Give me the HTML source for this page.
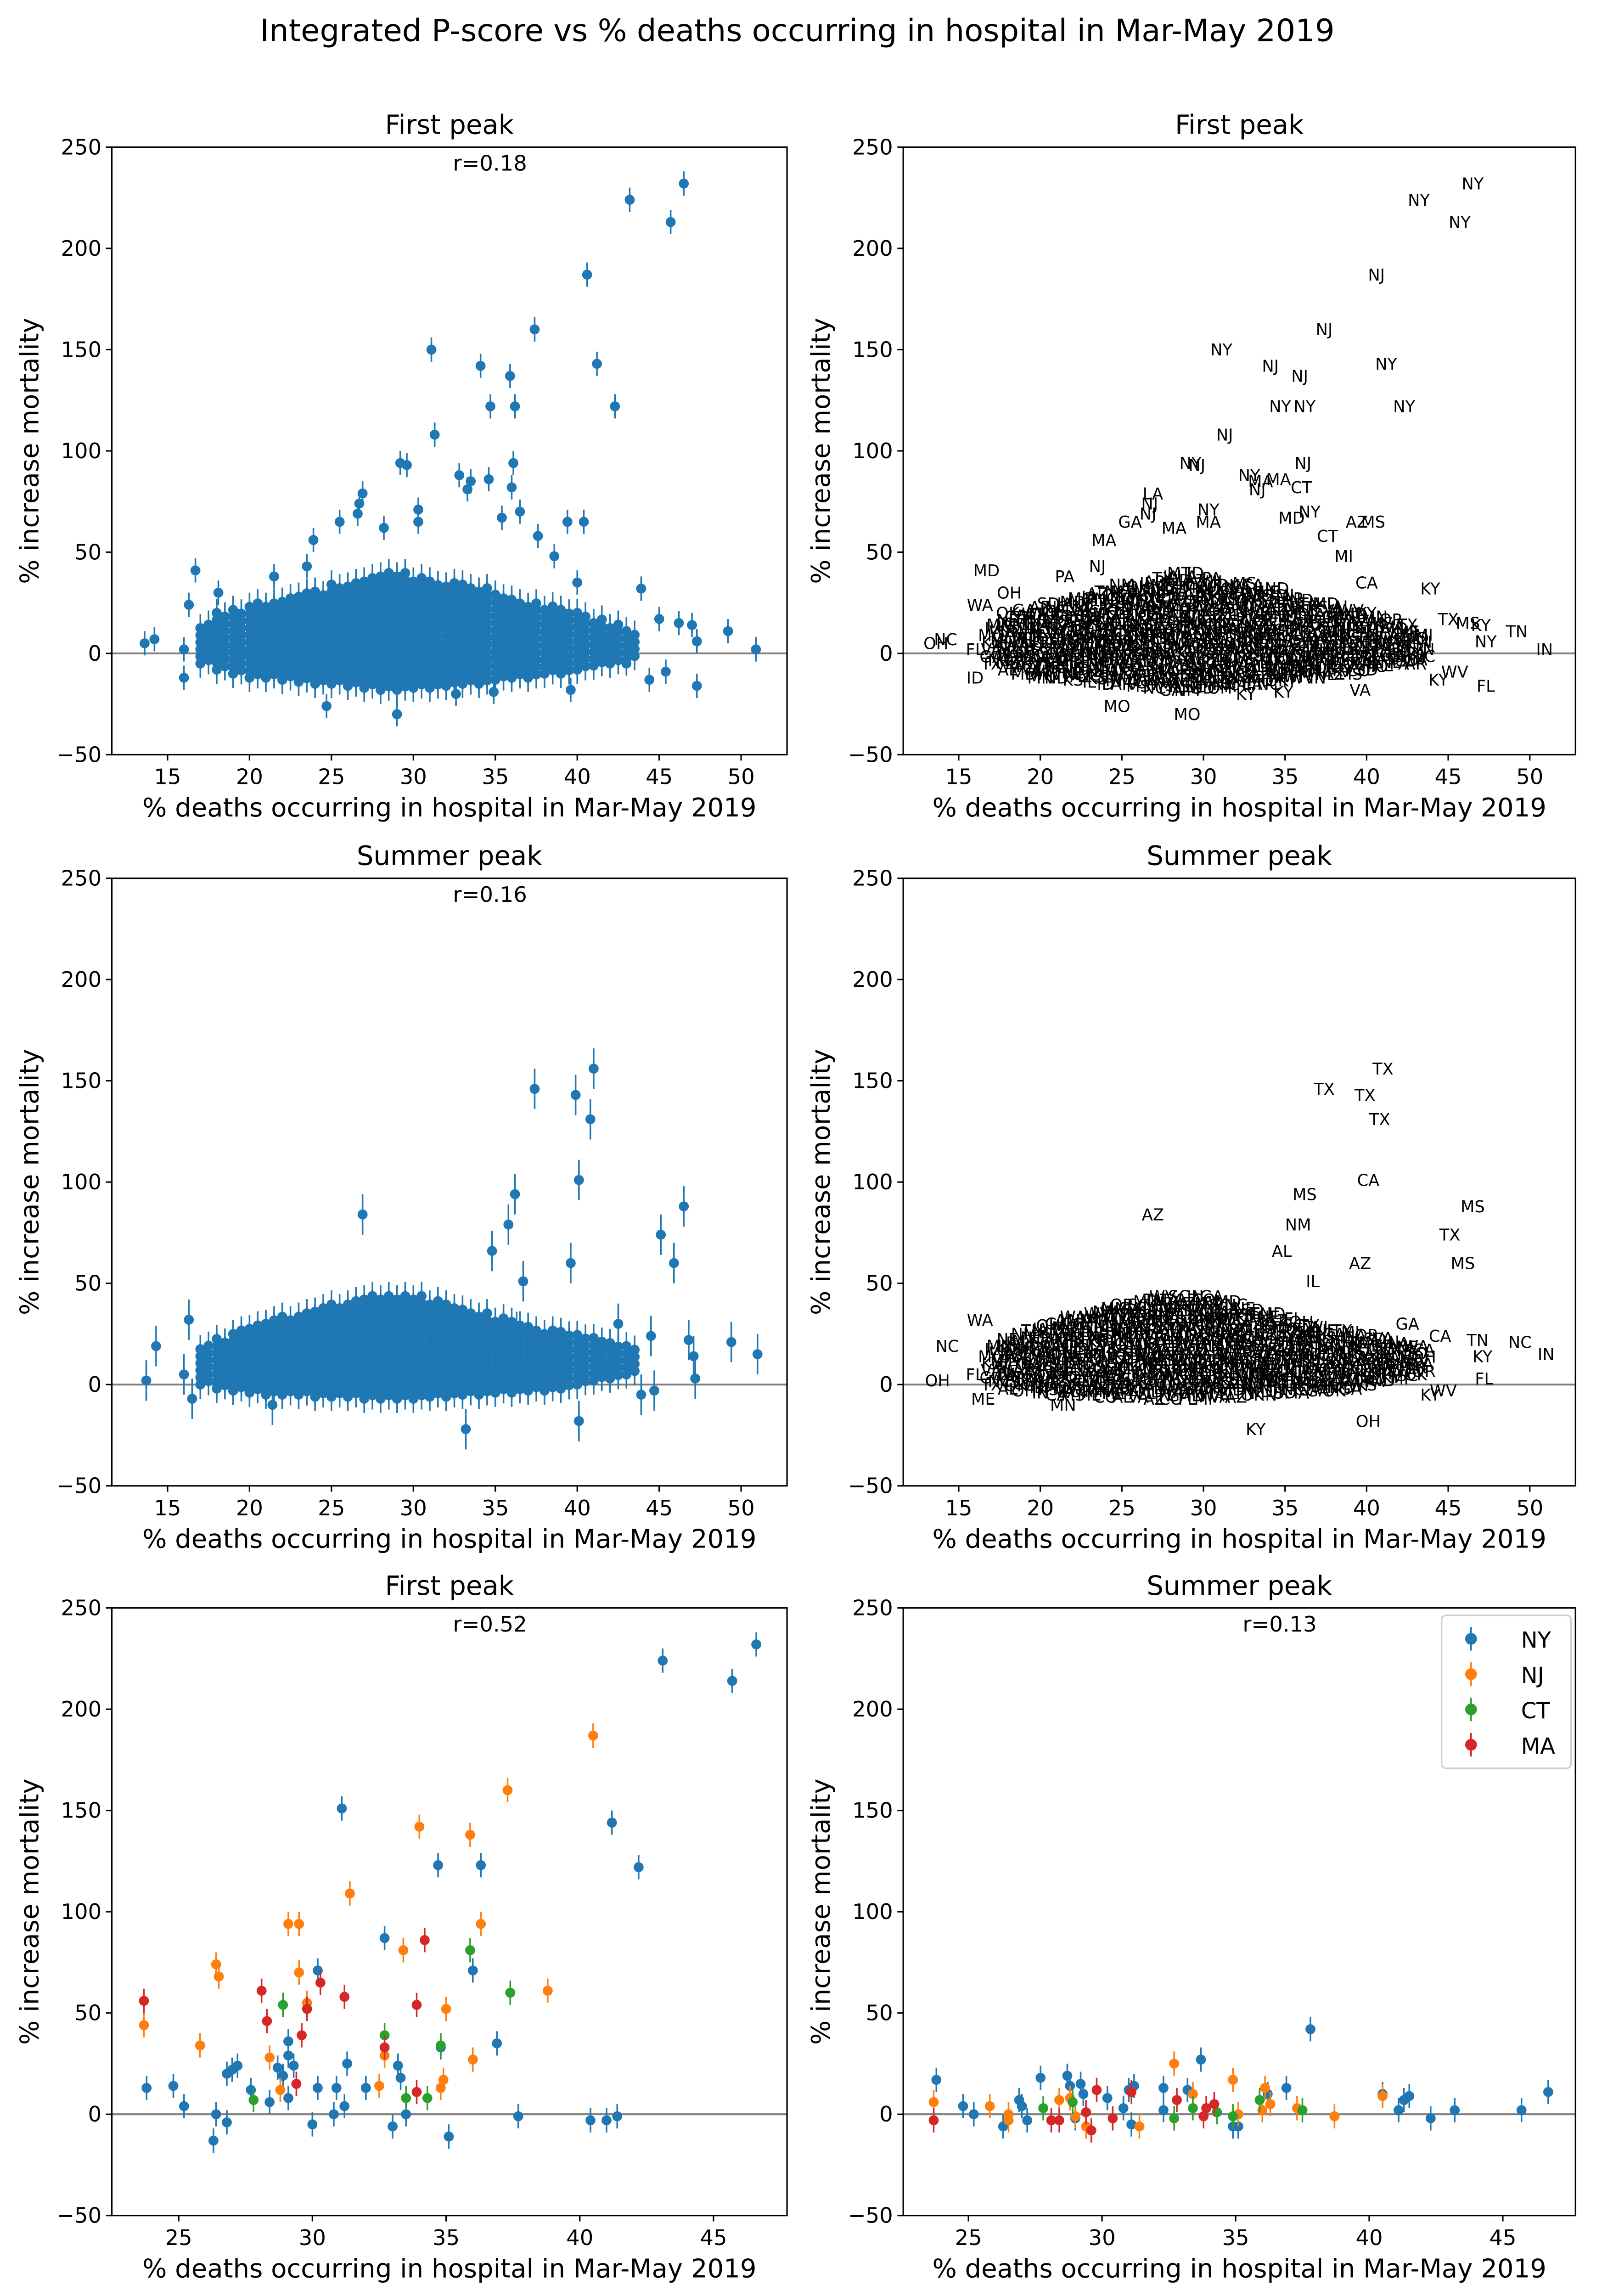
<!DOCTYPE html>
<html><head><meta charset="utf-8"><style>
html,body{margin:0;padding:0;background:#fff;width:3489px;height:5049px;overflow:hidden}
svg{display:block;font-family:"DejaVu Sans","Liberation Sans",sans-serif}
</style></head><body>
<svg id="fig" width="3489" height="5049" viewBox="0 0 1089 1576" xmlns="http://www.w3.org/2000/svg">
<rect width="1089" height="1576" fill="#fff"/>
<text x="542" y="28" font-size="21" text-anchor="middle">Integrated P-score vs % deaths occurring in hospital in Mar-May 2019</text>
</svg>
<script>
// ---- data ----
const cloudStates=['TX','GA','VA','KY','MO','IL','NC','TN','IN','MI','WI','MN','AL','MS','LA','SC','FL','IA','KS','NE','OK','AR','WV','CO','WA','OR','PA','OH','CA','MD','AZ','ID','SD','ND','MT','NM','ME'];
const cloudBinX=[17,18,19,20,21,22,23,24,25,26,27,28,29,30,31,32,33,34,35,36,37,38,39,40,41,42,43];
const fpLo=[-5,-8,-10,-12,-12,-13,-14,-15,-15,-16,-17,-18,-18,-17,-17,-16,-15,-15,-13,-12,-12,-10,-10,-8,-6,-5,-3];
const fpHi=[15,20,22,25,26,28,30,32,34,36,38,40,40,38,36,36,35,33,30,28,26,24,22,20,18,15,12];
const smLo=[0,-2,-3,-4,-5,-5,-5,-6,-6,-6,-7,-7,-7,-7,-6,-6,-5,-5,-4,-4,-3,-3,-2,0,2,3,5];
const smHi=[20,24,28,30,32,34,36,38,40,42,44,45,45,44,42,40,38,36,34,32,30,28,26,25,24,22,20];
// first-peak outliers [x, y, state]
const fpOut=[[46.5,232,'NY'],[43.2,224,'NY'],[45.7,213,'NY'],[40.6,187,'NJ'],[37.4,160,'NJ'],[31.1,150,'NY'],[34.1,142,'NJ'],[35.9,137,'NJ'],[41.2,143,'NY'],[34.7,122,'NY'],[36.2,122,'NY'],[42.3,122,'NY'],[31.3,108,'NJ'],[29.2,94,'NY'],[29.6,93,'NJ'],[36.1,94,'NJ'],[32.8,88,'NY'],[33.5,85,'MA'],[34.6,86,'MA'],[36,82,'CT'],[33.3,81,'NJ'],[26.9,79,'LA'],[26.7,74,'NJ'],[26.6,69,'NJ'],[25.5,65,'GA'],[28.2,62,'MA'],[30.3,71,'NY'],[30.3,65,'MA'],[36.5,70,'NY'],[35.4,67,'MD'],[37.6,58,'CT'],[39.4,65,'AZ'],[40.4,65,'MS'],[23.9,56,'MA'],[38.6,48,'MI'],[40,35,'CA'],[16.7,41,'MD'],[16.3,24,'WA'],[14.2,7,'NC'],[13.6,5,'OH'],[16,-12,'ID'],[16,2,'FL'],[24.7,-26,'MO'],[29,-30,'MO'],[43.9,32,'KY'],[45,17,'TX'],[46.2,15,'MS'],[47,14,'KY'],[47.3,6,'NY'],[49.2,11,'TN'],[50.9,2,'IN'],[47.3,-16,'FL'],[44.4,-13,'KY'],[45.4,-9,'WV'],[43,-5,'AR'],[39.6,-18,'VA'],[32.6,-20,'KY'],[34.9,-19,'KY'],[18.1,30,'OH'],[21.5,38,'PA'],[23.5,43,'NJ']];
// summer outliers
const smOut=[[41,156,'TX'],[37.4,146,'TX'],[39.9,143,'TX'],[40.8,131,'TX'],[40.1,101,'CA'],[36.2,94,'MS'],[26.9,84,'AZ'],[35.8,79,'NM'],[34.8,66,'AL'],[46.5,88,'MS'],[45.1,74,'TX'],[45.9,60,'MS'],[39.6,60,'AZ'],[36.7,51,'IL'],[16.3,32,'WA'],[14.3,19,'NC'],[13.7,2,'OH'],[16,5,'FL'],[16.5,-7,'ME'],[21.4,-10,'MN'],[33.2,-22,'KY'],[40.1,-18,'OH'],[49.4,21,'NC'],[46.8,22,'TN'],[47.1,14,'KY'],[47.2,3,'FL'],[51,15,'IN'],[44.5,24,'CA'],[43.9,-5,'KY'],[44.7,-3,'WV'],[42.5,30,'GA'],[36.3,26,'SC']];
// bottom panels: [x, y]
const fpNY=[[23.8,13],[24.8,14],[25.2,4],[26.3,-13],[26.4,0],[26.8,-4],[26.8,20],[27,22],[27.2,24],[27.7,12],[28.4,6],[28.7,23],[28.9,19],[29.1,29],[29.1,36],[29.1,8],[29.3,24],[30,-5],[30.2,13],[30.2,71],[30.8,0],[30.9,13],[31.1,151],[31.2,4],[31.3,25],[32,13],[32.7,87],[33,-6],[33.2,24],[33.3,18],[33.5,0],[34.7,123],[34.8,33],[35.1,-11],[36,71],[36.3,123],[36.9,35],[37.7,-1],[40.4,-3],[41,-3],[41.2,144],[41.4,-1],[42.2,122],[43.1,224],[45.7,214],[46.6,232]];
const fpNJ=[[23.7,44],[25.8,34],[26.4,74],[26.5,68],[28.4,28],[28.8,12],[29.1,94],[29.5,94],[29.5,70],[29.8,55],[31.4,109],[32.5,14],[32.7,29],[33.4,81],[34,142],[34.8,13],[34.9,17],[35,52],[35.9,138],[36,27],[36.3,94],[37.3,160],[38.8,61],[40.5,187]];
const fpCT=[[27.8,7],[28.9,54],[32.7,39],[33.5,8],[34.3,8],[34.8,34],[35.9,81],[37.4,60]];
const fpMA=[[23.7,56],[28.1,61],[28.3,46],[29.4,15],[29.6,39],[29.8,52],[30.3,65],[31.2,58],[32.7,33],[33.9,54],[33.9,11],[34.2,86]];
const smNY=[[23.8,17],[24.8,4],[25.2,0],[26.3,-6],[26.9,7],[27,4],[27.2,-3],[27.7,18],[28.7,19],[28.8,14],[29,-2],[29.2,15],[29.3,10],[30.2,8],[30.8,3],[31,12],[31.2,14],[31.1,-5],[32.3,13],[32.3,2],[33.2,12],[33.7,27],[34.9,-6],[35.1,-6],[36.2,10],[36.9,13],[37.8,42],[40.5,10],[41.1,2],[41.3,7],[41.5,9],[42.3,-2],[43.2,2],[45.7,2],[46.7,11]];
const smNJ=[[23.7,6],[25.8,4],[26.5,-3],[26.5,0],[28.4,7],[28.8,8],[29,-1],[29.4,-6],[31.4,-6],[32.7,25],[33.4,10],[34.9,17],[35.1,0],[36,2],[36.1,13],[36.3,5],[37.3,3],[38.7,-1],[40.5,9]];
const smCT=[[27.8,3],[28.9,6],[32.7,-2],[33.4,3],[34.3,1],[34.9,-1],[35.9,7],[37.5,2]];
const smMA=[[23.7,-3],[28.1,-3],[28.4,-3],[29.4,1],[29.6,-8],[29.8,12],[30.4,-2],[31.1,11],[32.8,7],[33.8,-1],[33.9,3],[34.2,5]];
const yTicks=[-50,0,50,100,150,200,250];
const xTicksWide=[15,20,25,30,35,40,45,50];
const xTicksNarrow=[25,30,35,40,45];
const COL={NY:'#1f77b4',NJ:'#ff7f0e',CT:'#2ca02c',MA:'#d62728'};

// ---- drawing ----
const svg=document.getElementById('fig');
const NS='http://www.w3.org/2000/svg';
function mk(tag,attrs,parent){const e=document.createElementNS(NS,tag);for(const k in attrs)e.setAttribute(k,attrs[k]);(parent||svg).appendChild(e);return e;}
function panel(name,left,top,w,xmin,xmax,xt,title,rtext){
  const h=413;const g=mk('g',{});
  
  
  const sx=v=>left+(v-xmin)/(xmax-xmin)*w;
  const sy=v=>top+(250-v)/300*h;
  const t=mk('text',{x:left+w/2,y:top-9,'font-size':18,'text-anchor':'middle'},g);t.textContent=title;
  
  
  if(rtext){const r=mk('text',{x:sx(xmin+(xmax-xmin)*0.56),y:top+16,'font-size':14.5,'text-anchor':'middle'},g);r.textContent=rtext;
    
    }
  const xl=mk('text',{x:left+w/2,y:top+h+42,'font-size':17.5,'text-anchor':'middle'},g);xl.textContent='% deaths occurring in hospital in Mar-May 2019';
  
  
  const yl=mk('text',{x:0,y:0,'font-size':17.5,'text-anchor':'middle',transform:`translate(${left-50},${top+h/2}) rotate(-90)`},g);yl.textContent='% increase mortality';
  
  
  yTicks.forEach(v=>{mk('line',{x1:left-4,x2:left,y1:sy(v),y2:sy(v),stroke:'#000'},g);
    const tt=mk('text',{x:left-7,y:sy(v)+5,'font-size':14.5,'text-anchor':'end'},g);tt.textContent=v<0?'\u2212'+(-v):v;
    
    });
  xt.forEach(v=>{mk('line',{x1:sx(v),x2:sx(v),y1:top+h,y2:top+h+4,stroke:'#000'},g);
    const tt=mk('text',{x:sx(v),y:top+h+20,'font-size':14.5,'text-anchor':'middle'},g);tt.textContent=v;
    
    });
  mk('line',{x1:left,x2:left+w,y1:sy(0),y2:sy(0),stroke:'#808080','stroke-width':1.3},g);
  const plot=mk('g',{},g);
  mk('rect',{x:left,y:top,width:w,height:h,fill:'none',stroke:'#000','stroke-width':1},g);
  return {g:plot,sx,sy};
}
function dot(p,x,y,err,color,name){
  const gg=mk('g',{},p.g);
  
  
  mk('line',{x1:p.sx(x),x2:p.sx(x),y1:p.sy(y-err),y2:p.sy(y+err),stroke:color,'stroke-width':1.1},gg);
  mk('circle',{cx:p.sx(x),cy:p.sy(y),r:3.4,fill:color},gg);
}
function label(p,x,y,st,name){
  const t=mk('text',{x:p.sx(x),y:p.sy(y)+4,'font-size':11,'text-anchor':'middle'},p.g);
  t.textContent=st;
  
  
}
function cloud(p,lo,hi,isText){
  let k=0;
  cloudBinX.forEach((bx,i)=>{[0,0.5].forEach(dx=>{
    for(let y=lo[i]+(dx?1.7:0);y<=hi[i];y+=3.5){
      if(isText)label(p,bx+dx,y,cloudStates[(k++)%cloudStates.length],'cloud-label');
      else dot(p,bx+dx,y,7,COL.NY,'cloud-point');
    }});});
}
const LX=76,LW=459,RX=614,RW=457;
const tops=[100,597,1093];
let p=panel('first-peak-scatter',LX,tops[0],LW,11.6,52.8,xTicksWide,'First peak','r=0.18');
cloud(p,fpLo,fpHi,false);fpOut.forEach(d=>dot(p,d[0],d[1],6,COL.NY,'county-point'));
p=panel('first-peak-labels',RX,tops[0],RW,11.6,52.8,xTicksWide,'First peak','');
cloud(p,fpLo,fpHi,true);fpOut.forEach(d=>label(p,d[0],d[1],d[2],'state-label'));
p=panel('summer-peak-scatter',LX,tops[1],LW,11.6,52.8,xTicksWide,'Summer peak','r=0.16');
cloud(p,smLo,smHi,false);smOut.forEach(d=>dot(p,d[0],d[1],10,COL.NY,'county-point'));
p=panel('summer-peak-labels',RX,tops[1],RW,11.6,52.8,xTicksWide,'Summer peak','');
cloud(p,smLo,smHi,true);smOut.forEach(d=>label(p,d[0],d[1],d[2],'state-label'));
p=panel('first-peak-northeast',LX,tops[2],LW,22.5,47.75,xTicksNarrow,'First peak','r=0.52');
[['NY',fpNY],['NJ',fpNJ],['CT',fpCT],['MA',fpMA]].forEach(([s,arr])=>arr.forEach(d=>dot(p,d[0],d[1],6,COL[s],'point-'+s.toLowerCase())));
p=panel('summer-peak-northeast',RX,tops[2],RW,22.56,47.72,xTicksNarrow,'Summer peak','r=0.13');
[['NY',smNY],['NJ',smNJ],['CT',smCT],['MA',smMA]].forEach(([s,arr])=>arr.forEach(d=>dot(p,d[0],d[1],6,COL[s],'point-'+s.toLowerCase())));
const lg=mk('g',{});


mk('rect',{x:980,y:1098,width:88,height:104,rx:3,fill:'#fff',stroke:'#ccc'},lg);
['NY','NJ','CT','MA'].forEach((s,i)=>{
  const y=1114+i*24;
  const e=mk('g',{},lg);
  
  
  mk('line',{x1:1000,x2:1000,y1:y-8,y2:y+8,stroke:COL[s],'stroke-width':1.1},e);
  mk('circle',{cx:1000,cy:y,r:4,fill:COL[s]},e);
  const t=mk('text',{x:1034,y:y+6,'font-size':15},e);t.textContent=s;
});
</script>
</body></html>
